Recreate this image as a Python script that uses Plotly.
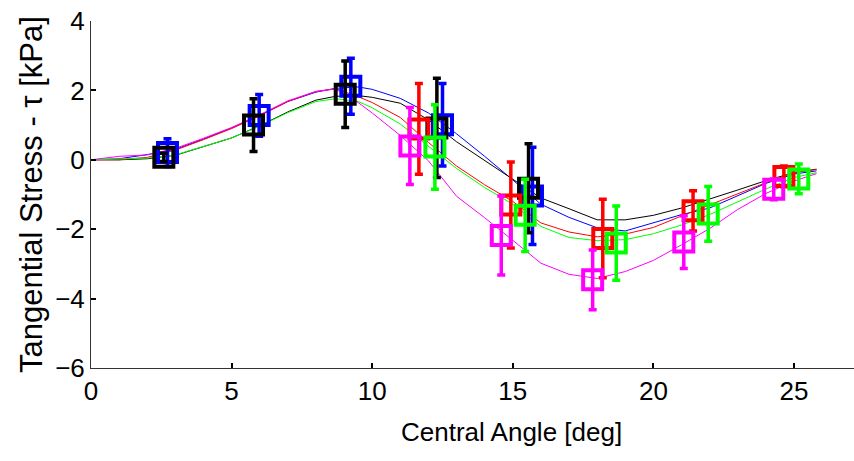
import plotly.graph_objects as go

# Model curves: tangential stress along the central angle
angle_grid = [0, 1, 2, 3, 4, 5, 6, 7, 8, 8.7, 9.5, 10, 11, 12, 13, 14, 15, 16,
              17, 18, 19, 20, 21, 22, 23, 24, 25, 25.8]
curve_blue = [0, 0.03, 0.15, 0.3, 0.6, 0.92, 1.28, 1.68, 1.95, 2.06, 2.1, 2.03,
              1.77, 1.35, 0.75, 0.1, -0.58, -1.28, -1.66, -1.96, -2.05, -1.81,
              -1.58, -1.39, -1.03, -0.68, -0.41, -0.32]
curve_black = [0, 0, 0.03, 0.13, 0.38, 0.63, 0.98, 1.38, 1.72, 1.83, 1.85, 1.8,
               1.63, 1.15, 0.52, -0.02, -0.54, -1.1, -1.41, -1.73, -1.73, -1.6,
               -1.39, -1.14, -0.87, -0.6, -0.37, -0.27]
curve_red = [0, 0, 0.07, 0.28, 0.58, 0.9, 1.27, 1.68, 1.97, 2.05, 1.82, 1.65,
             1.22, 0.5, -0.18, -0.72, -1.2, -1.82, -2.08, -2.22, -2.14, -1.95,
             -1.62, -1.3, -0.96, -0.66, -0.37, -0.28]
curve_green = [0, 0.02, 0.05, 0.14, 0.38, 0.63, 0.97, 1.36, 1.68, 1.76, 1.68, 1.5,
               1.03, 0.4, -0.25, -0.8, -1.28, -1.92, -2.24, -2.33, -2.3, -2.13,
               -1.88, -1.58, -1.2, -0.84, -0.51, -0.37]
curve_magenta = [0, 0.1, 0.14, 0.33, 0.62, 0.93, 1.3, 1.7, 1.97, 2.04, 1.65, 1.35,
                 0.7, -0.03, -1.05, -1.67, -2.32, -2.98, -3.3, -3.42, -3.22, -2.9,
                 -2.45, -1.98, -1.43, -0.97, -0.61, -0.4]

# Measured points (mean +/- spread)
blue_x = [2.72, 5.98, 9.24, 12.5, 15.7]
blue_y = [0.21, 1.28, 2.12, 1.01, -1.04]
blue_err = [0.4, 0.6, 0.81, 1.19, 1.4]

black_x = [2.59, 5.78, 9.04, 12.3, 15.56]
black_y = [0.07, 1.0, 1.89, 0.92, -0.82]
black_err = [0.12, 0.76, 0.96, 1.43, 1.28]

red_x = [11.66, 14.93, 18.2, 21.41, 24.64]
red_y = [0.89, -1.3, -2.27, -1.47, -0.48]
red_err = [1.31, 1.24, 1.13, 0.58, 0.3]

green_x = [12.23, 15.44, 18.68, 21.95, 25.17]
green_y = [0.37, -1.6, -2.4, -1.56, -0.55]
green_err = [1.22, 1.04, 1.07, 0.79, 0.43]

magenta_x = [11.34, 14.59, 17.84, 21.08, 24.28]
magenta_y = [0.4, -2.18, -3.46, -2.37, -0.85]
magenta_err = [1.11, 1.14, 0.86, 0.76, 0.3]

x_ticks = [0, 5, 10, 15, 20, 25]
y_ticks = [-6, -4, -2, 0, 2, 4]

BLUE, BLACK, RED, GREEN, MAGENTA = "#0000ff", "#000000", "#ff0000", "#00ff00", "#ff00ff"

fig = go.Figure()

for ys, col in [(curve_blue, BLUE), (curve_black, BLACK), (curve_red, RED),
                (curve_green, GREEN), (curve_magenta, MAGENTA)]:
    fig.add_trace(go.Scatter(x=angle_grid, y=ys, mode="lines",
                             line=dict(color=col, width=1), showlegend=False,
                             hoverinfo="skip"))

for xs, ys, es, col in [(blue_x, blue_y, blue_err, BLUE),
                        (black_x, black_y, black_err, BLACK),
                        (red_x, red_y, red_err, RED),
                        (green_x, green_y, green_err, GREEN),
                        (magenta_x, magenta_y, magenta_err, MAGENTA)]:
    fig.add_trace(go.Scatter(
        x=xs, y=ys, mode="markers", showlegend=False,
        marker=dict(symbol="square-open", size=19, color=col,
                    line=dict(color=col, width=4)),
        error_y=dict(type="data", array=es, visible=True, color=col,
                     thickness=3.5, width=4),
    ))

tick_font = dict(family="Liberation Sans, Arial", size=26, color="#000000")

W, H = 854, 461
L, R, T, B = 91, 0, 21, 93
pw, ph = W - L - R, H - T - B

fig.update_layout(
    width=W, height=H,
    margin=dict(l=L, r=R, t=T, b=B, pad=0),
    paper_bgcolor="white", plot_bgcolor="white",
    xaxis=dict(range=[0, (W - L) / 28.12], tickvals=x_ticks, ticks="inside",
               ticklen=5, tickwidth=1.5, tickcolor="#000000", showline=True,
               linecolor="#333333", linewidth=1, showgrid=False, zeroline=False,
               tickfont=tick_font),
    yaxis=dict(range=[-6, 4], tickvals=y_ticks, ticks="inside", ticklen=5,
               tickwidth=1.5, tickcolor="#000000", showline=True,
               linecolor="#333333", linewidth=1, showgrid=False, zeroline=False,
               tickfont=tick_font),
    annotations=[
        dict(text="Central Angle [deg]", xref="paper", yref="paper",
             x=(511.7 - L) / pw, y=(368 - 432) / ph, xanchor="center",
             yanchor="middle", showarrow=False,
             font=dict(family="Liberation Sans, Arial", size=26, color="#000000")),
        dict(text="Tangential Stress - \u03c4 [kPa]", xref="paper", yref="paper",
             x=(31 - L) / pw, y=(368 - 195) / ph, xanchor="center",
             yanchor="middle", textangle=-90, showarrow=False,
             font=dict(family="Liberation Sans, Arial", size=31, color="#000000")),
    ],
)

fig.write_html("out.html")
